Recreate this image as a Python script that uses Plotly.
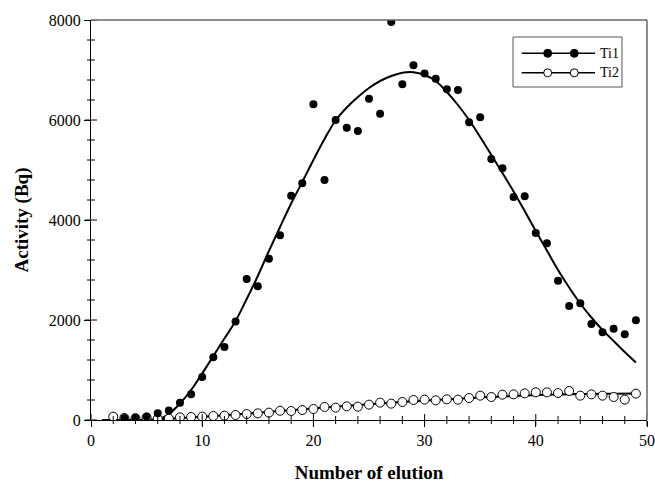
import plotly.graph_objects as go

# ---- data ----
ti1_x = list(range(3, 50))
ti1_y = [40, 50, 70, 134, 190, 346, 513, 860, 1253, 1460, 1970, 2820, 2673, 3227,
         3693, 4487, 4733, 6313, 4800, 6000, 5847, 5780, 6427, 6127, 7960, 6713,
         7093, 6930, 6827, 6613, 6600, 5953, 6053, 5220, 5033, 4460, 4473, 3740,
         3533, 2787, 2280, 2333, 1920, 1753, 1827, 1713, 1993]

ti2_x = list(range(2, 50))
ti2_y = [67, 40, 33, 47, 27, 27, 53, 60, 67, 80, 87, 100, 120, 133, 147, 185, 180,
         200, 220, 260, 247, 273, 267, 307, 347, 327, 360, 400, 407, 393, 413, 407,
         440, 487, 460, 507, 513, 533, 553, 553, 540, 580, 487, 513, 487, 460, 407, 527]

fit1_x = list(range(1, 50))
fit1_y = [0, 0, 0, 0, 0, 10, 120, 330, 600, 930, 1280, 1630, 1980, 2420, 2880,
          3380, 3860, 4330, 4760, 5200, 5620, 5990, 6250, 6460, 6640, 6780, 6880,
          6945, 6955, 6900, 6780, 6560, 6300, 6000, 5660, 5300, 4940, 4570, 4180,
          3780, 3390, 3000, 2650, 2330, 2050, 1800, 1580, 1360, 1150]

fit2_x = [1, 3, 5, 7, 9, 11, 13, 15, 17, 19, 21, 23, 25, 27, 29, 31, 33, 35, 37,
          39, 41, 43, 45, 47, 49]
fit2_y = [0, 0, 5, 25, 50, 80, 110, 145, 180, 215, 250, 285, 315, 345, 375, 400,
          425, 450, 470, 490, 505, 515, 522, 526, 528]

x_major = [0, 10, 20, 30, 40, 50]
y_major = [0, 2000, 4000, 6000, 8000]
x_minor = list(range(0, 51, 2))
y_minor = list(range(0, 8001, 400))
series_names = ["Ti1", "Ti2"]

FONT = "Liberation Serif"

fig = go.Figure()
fig.add_trace(go.Scatter(x=fit1_x, y=fit1_y, mode="lines", line=dict(color="black", width=2, shape="spline"),
                         showlegend=False, hoverinfo="skip"))
fig.add_trace(go.Scatter(x=fit2_x, y=fit2_y, mode="lines", line=dict(color="black", width=2, shape="spline"),
                         showlegend=False, hoverinfo="skip"))
fig.add_trace(go.Scatter(x=ti2_x, y=ti2_y, mode="markers", name=series_names[1],
                         marker=dict(symbol="circle", size=9, color="white",
                                     line=dict(color="black", width=1)), showlegend=False))
fig.add_trace(go.Scatter(x=ti1_x, y=ti1_y, mode="markers", name=series_names[0],
                         marker=dict(symbol="circle", size=8, color="black",
                                     line=dict(color="black", width=0)), showlegend=False))

tick_font = dict(family=FONT, size=16, color="black")

fig.update_layout(
    template="none",
    width=655, height=487,
    margin=dict(l=91, r=8, t=20, b=67),
    paper_bgcolor="white", plot_bgcolor="white",
    showlegend=False,
    xaxis=dict(range=[0, 50], tickmode="array", tickvals=x_major,
               showgrid=False, zeroline=False, showline=True, linecolor="black", linewidth=1,
               ticks="outside", ticklen=6, tickwidth=1, tickcolor="black", tickfont=tick_font,
               title=dict(text="<b>Number of elution</b>", font=dict(family=FONT, size=19, color="black"),
                          standoff=17)),
    yaxis=dict(range=[0, 8000], tickmode="array", tickvals=y_major,
               showgrid=False, zeroline=False, showline=True, linecolor="black", linewidth=1,
               ticks="outside", ticklen=6, tickwidth=1, tickcolor="black", tickfont=tick_font,
               title=dict(text="<b>Activity (Bq)</b>", font=dict(family=FONT, size=19, color="black"),
                          standoff=15)),
)

# crossing tick marks (major and minor), placed through the axis scales
for v in x_minor:
    half = 6 if v in x_major else 4
    fig.add_shape(type="line", xref="x", yref="paper", ysizemode="pixel", yanchor=0,
                  x0=v, x1=v, y0=-half, y1=half, line=dict(color="black", width=1), layer="above")
for v in y_minor:
    half = 6 if v in y_major else 4
    fig.add_shape(type="line", yref="y", xref="paper", xsizemode="pixel", xanchor=0,
                  y0=v, y1=v, x0=-half, x1=half, line=dict(color="black", width=1), layer="above")

# top/right frame lines are grey
fig.add_shape(type="line", xref="paper", yref="paper", x0=0, x1=1, y0=1, y1=1,
              line=dict(color="#666666", width=1.5))
fig.add_shape(type="line", xref="paper", yref="paper", x0=1, x1=1, y0=0, y1=1,
              line=dict(color="#666666", width=1.5))

# manual legend
fig.add_shape(type="rect", xref="paper", yref="paper", x0=0.759, x1=0.955, y0=0.8325, y1=0.9575,
              line=dict(color="#555555", width=1), fillcolor="white", layer="above")
leg_y = [0.9167, 0.868]
fills = ["black", "white"]
for i, name in enumerate(series_names):
    fig.add_shape(type="line", xref="paper", yref="paper", x0=0.7746, x1=0.9065,
                  y0=leg_y[i], y1=leg_y[i], line=dict(color="black", width=1.5), layer="above")
    for xm in (0.8214, 0.8692):
        fig.add_shape(type="circle", xref="paper", yref="paper", xsizemode="pixel", ysizemode="pixel",
                      xanchor=xm, yanchor=leg_y[i], x0=-4, x1=4, y0=-4, y1=4,
                      fillcolor=fills[i], line=dict(color="black", width=1), layer="above")
    fig.add_annotation(x=0.911, y=leg_y[i], xref="paper", yref="paper", text=name,
                       showarrow=False, xanchor="left", yanchor="middle",
                       font=dict(family=FONT, size=14, color="black"))

fig.write_html("out.html")
